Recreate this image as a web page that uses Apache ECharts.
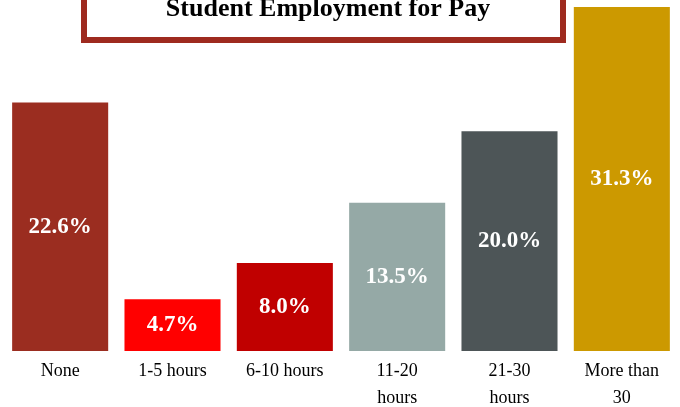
<!DOCTYPE html>
<html>
<head>
<meta charset="utf-8">
<script src="https://cdn.jsdelivr.net/npm/echarts@6/dist/echarts.min.js"></script>
<style>
  html, body { margin: 0; padding: 0; background: #fff; }
  #chart { width: 680px; height: 407px; }
</style>
</head>
<body>
<div id="chart"></div>
<script>
const categories = ["None", "1-5 hours", "6-10 hours", "11-20\nhours", "21-30\nhours", "More than\n30"];
const shares = [22.6, 4.7, 8.0, 13.5, 20.0, 31.3];
const barColors = ["#9B2D20", "#FF0000", "#C00000", "#95A9A6", "#4D5557", "#CC9900"];

const serif = "'Liberation Serif', 'DejaVu Serif', serif";

let chart = echarts.init(document.getElementById("chart"));
chart.setOption({
  animation: false,
  title: {
    text: "Student Employment for Pay",
    left: 323,
    textAlign: "center",
    top: -9,
    textStyle: {
      fontFamily: serif,
      fontWeight: "bold",
      fontSize: 26,
      color: "#000"
    }
  },
  // title frame
  graphic: [
    {
      type: "rect",
      z: -1,
      shape: { x: 84, y: -10, width: 479, height: 50 },
      style: { fill: "#fff", stroke: "#9E2A1F", lineWidth: 6 }
    }
  ],
  grid: {
    left: 4,
    right: 2,
    top: 7,
    bottom: 56,
    outerBoundsMode: "none"
  },
  xAxis: {
    type: "category",
    data: categories,
    axisLine: { show: false },
    axisTick: { show: false },
    axisLabel: {
      margin: 7,
      fontFamily: serif,
      fontSize: 18,
      lineHeight: 27,
      color: "#000",
      interval: 0
    }
  },
  yAxis: {
    type: "value",
    min: 0,
    max: 31.3,
    show: false,
    splitLine: { show: false }
  },
  series: [
    {
      type: "bar",
      barCategoryGap: "14.5%",
      data: shares.map((v, i) => ({ value: v, itemStyle: { color: barColors[i] } })),
      label: {
        show: true,
        position: "inside",
        formatter: p => p.value.toFixed(1) + "%",
        fontFamily: serif,
        fontWeight: "bold",
        fontSize: 23,
        color: "#fff"
      }
    }
  ]
});
</script>
</body>
</html>
